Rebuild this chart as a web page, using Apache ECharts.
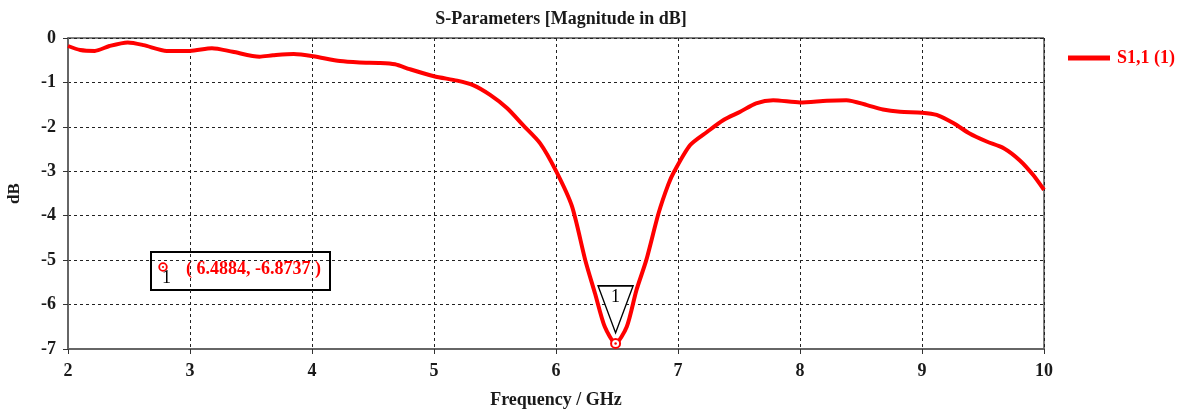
<!DOCTYPE html>
<html>
<head>
<meta charset="utf-8">
<style>
  html, body { margin: 0; padding: 0; background: #ffffff; }
  #chart { width: 1178px; height: 411px; }
</style>
<script src="https://cdn.jsdelivr.net/npm/echarts@6/dist/echarts.min.js"></script>
</head>
<body>
<div id="chart"></div>
<script>
// S1,1 magnitude sweep (GHz vs dB)
const freqGHz = [2.0, 2.1, 2.22, 2.34, 2.49, 2.62, 2.81, 3.0, 3.18, 3.35, 3.57, 3.68, 3.85, 4.01,
  4.23, 4.39, 4.56, 4.68, 4.80, 5.0, 5.19, 5.32, 5.46, 5.6, 5.73, 5.87, 6.0, 6.13, 6.24, 6.32,
  6.40, 6.4884, 6.58, 6.66, 6.74, 6.84, 6.92, 6.97, 7.10, 7.24, 7.37, 7.51, 7.64, 7.78, 8.0,
  8.22, 8.38, 8.55, 8.68, 8.82, 9.0, 9.12, 9.26, 9.39, 9.53, 9.67, 9.80, 9.91, 10.0];
const s11dB = [-0.18, -0.27, -0.29, -0.18, -0.10, -0.16, -0.29, -0.29, -0.23, -0.31, -0.42, -0.39,
  -0.36, -0.41, -0.52, -0.55, -0.56, -0.59, -0.70, -0.86, -0.96, -1.06, -1.28, -1.58, -1.96,
  -2.37, -2.99, -3.78, -5.0, -5.75, -6.5, -6.8737, -6.5, -5.67, -5.0, -3.95, -3.3, -3.0, -2.41,
  -2.11, -1.85, -1.66, -1.47, -1.40, -1.45, -1.41, -1.40, -1.51, -1.61, -1.66, -1.68, -1.73,
  -1.92, -2.15, -2.33, -2.48, -2.75, -3.08, -3.42];

// Marker 1 (minimum of S1,1)
const markerFreq = 6.4884;
const markerDb = -6.8737;
const markerName = '1';

const seriesName = 'S1,1 (1)';
const titleText = 'S-Parameters [Magnitude in dB]';
const xTitle = 'Frequency / GHz';
const yTitle = 'dB';

const serif = '"Liberation Serif", "DejaVu Serif", serif';
const red = '#ff0000';
const ink = '#1a1a1a';

const chart = echarts.init(document.getElementById('chart'), null, { renderer: 'canvas' });

const points = freqGHz.map((f, i) => [f, s11dB[i]]);

chart.setOption({
  animation: false,
  backgroundColor: '#ffffff',
  title: {
    text: titleText,
    left: 556, top: 5, textAlign: 'center',
    textStyle: { fontFamily: serif, fontWeight: 'bold', fontSize: 18, color: ink }
  },
  legend: {
    left: 1063, top: 44,
    icon: 'rect',
    itemWidth: 42, itemHeight: 5, itemGap: 6,
    data: [seriesName],
    textStyle: { fontFamily: serif, fontWeight: 'bold', fontSize: 18, color: red, padding: [0, 0, 0, 2] }
  },
  grid: {
    left: 68, right: 134, top: 38, bottom: 62,
    outerBoundsMode: 'none',
    containLabel: false,
    show: true, borderColor: '#000000', borderWidth: 1, backgroundColor: 'transparent'
  },
  xAxis: {
    type: 'value', min: 2, max: 10, interval: 1,
    name: xTitle, nameLocation: 'middle', nameGap: 42,
    nameTextStyle: { fontFamily: serif, fontWeight: 'bold', fontSize: 18, color: ink },
    axisLine: { show: true, onZero: false, lineStyle: { color: '#666666', width: 2 } },
    axisTick: { show: true, length: 5, lineStyle: { color: '#333333', width: 1 } },
    axisLabel: { margin: 13, fontFamily: serif, fontWeight: 'bold', fontSize: 18, color: ink },
    splitLine: { show: true, lineStyle: { color: '#222222', type: [3, 3], width: 1 } }
  },
  yAxis: {
    type: 'value', min: -7, max: 0, interval: 1,
    name: yTitle, nameLocation: 'middle', nameGap: 45, nameRotate: 90,
    nameTextStyle: { fontFamily: serif, fontWeight: 'bold', fontSize: 17, color: ink },
    axisLine: { show: true, lineStyle: { color: '#666666', width: 2 } },
    axisTick: { show: true, length: 5, lineStyle: { color: '#333333', width: 1 } },
    axisLabel: { margin: 12, fontFamily: serif, fontWeight: 'bold', fontSize: 18, color: ink },
    splitLine: { show: true, lineStyle: { color: '#222222', type: [3, 3], width: 1 } }
  },
  series: [{
    name: seriesName,
    type: 'line',
    data: points,
    smooth: 0.25,
    symbol: 'none',
    color: red,
    lineStyle: { color: red, width: 4 },
    z: 3,
    markPoint: {
      silent: true,
      animation: false,
      data: [
        {
          // triangle flag labelled with the marker number
          coord: [markerFreq, markerDb],
          symbol: 'path://M0,0 L35,0 L17.5,47 Z',
          symbolSize: [35, 47],
          symbolKeepAspect: false,
          symbolOffset: [0, -34],
          itemStyle: { color: '#ffffff', borderColor: '#000000', borderWidth: 1.5 },
          label: {
            show: true, formatter: markerName, position: 'inside', offset: [0, -12],
            fontFamily: serif, fontSize: 18, color: '#000000'
          }
        },
        {
          coord: [markerFreq, markerDb],
          symbol: 'circle', symbolSize: 9,
          itemStyle: { color: '#ffffff', borderColor: red, borderWidth: 2 },
          label: { show: false }
        },
        {
          coord: [markerFreq, markerDb],
          symbol: 'circle', symbolSize: 2.5,
          itemStyle: { color: red },
          label: { show: false }
        }
      ]
    }
  }],
  graphic: [{
    type: 'group', left: 150, top: 251, z: 100,
    children: [
      {
        type: 'rect', shape: { x: 0, y: 0, width: 179, height: 38 },
        style: { fill: '#ffffff', stroke: '#000000', lineWidth: 2 }
      },
      {
        type: 'circle', shape: { cx: 12, cy: 15, r: 3.8 },
        style: { fill: '#ffffff', stroke: red, lineWidth: 1.8 }
      },
      {
        type: 'circle', shape: { cx: 12, cy: 15, r: 1.1 },
        style: { fill: red }
      },
      {
        type: 'text', x: 11, y: 17,
        style: { text: markerName, font: '18px ' + serif, fill: '#000000' }
      },
      {
        type: 'text', x: 35, y: 8,
        style: {
          text: '( ' + markerFreq.toFixed(4) + ', ' + markerDb.toFixed(4) + ' )',
          font: 'bold 18px ' + serif, fill: red
        }
      }
    ]
  }]
});
</script>
</body>
</html>
